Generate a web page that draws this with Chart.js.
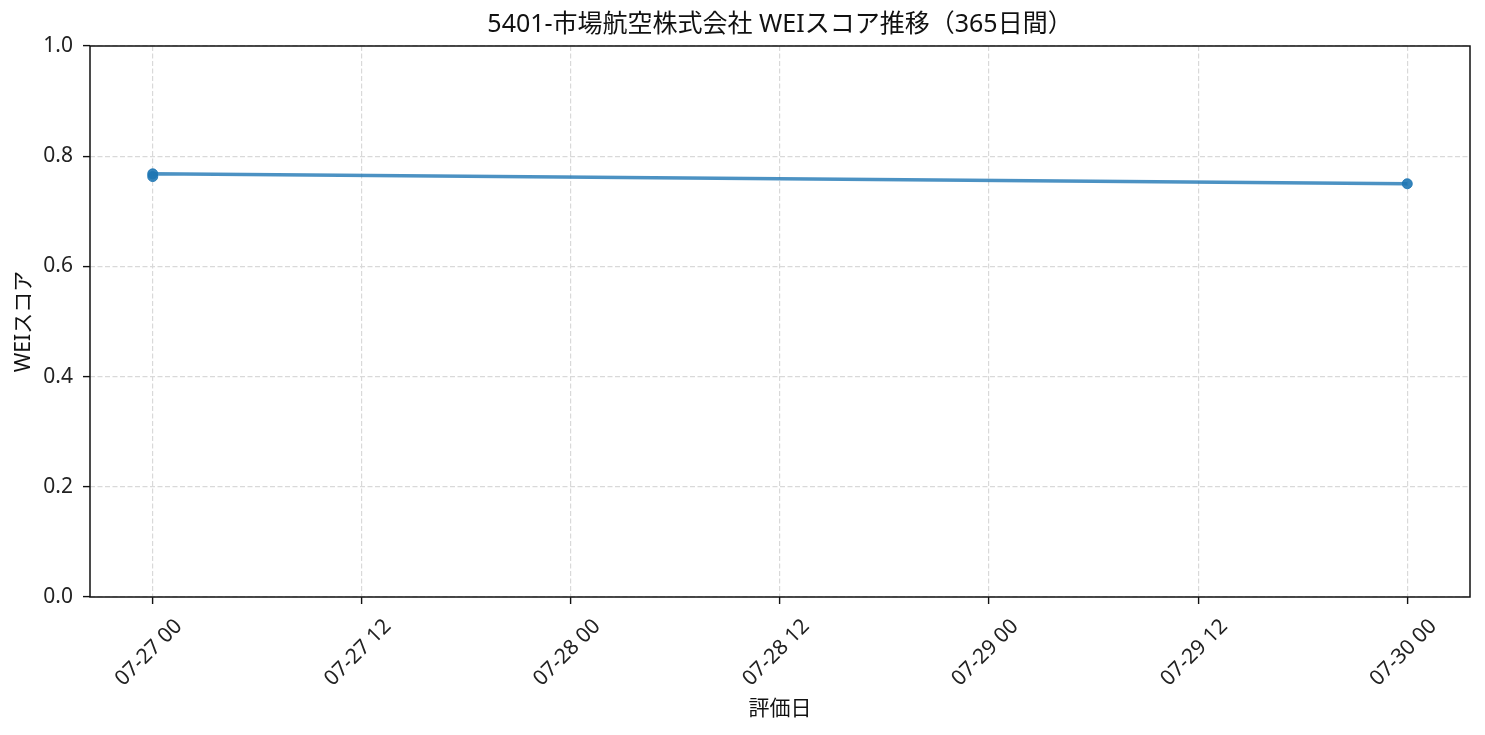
<!DOCTYPE html>
<html>
<head>
<meta charset="utf-8">
<script src="https://cdn.jsdelivr.net/npm/chart.js@4/dist/chart.umd.min.js"></script>
<style>
  body { margin: 0; background: #fff; }
  #wrap { width: 1485px; height: 735px; }
</style>
</head>
<body>
<div id="wrap"><canvas id="weiChart"></canvas></div>
<script>
// evaluation records
var evalDates = ['2025-07-27T00:00:00Z', '2025-07-27T00:00:00Z', '2025-07-30T00:00:00Z'];
var weiScores = [0.763, 0.768, 0.750];
var yTicks = [0.0, 0.2, 0.4, 0.6, 0.8, 1.0];
var xTickHours = [0, 12, 24, 36, 48, 60, 72];
var chartTitle = '5401-市場航空株式会社 WEIスコア推移（365日間）';

var baseTime = Date.parse('2025-07-27T00:00:00Z');
var HOUR = 3600 * 1000;

var points = evalDates.map(function(d, i) {
    return { x: (Date.parse(d) - baseTime) / HOUR, y: weiScores[i] };
});

function pad(n) { return (n < 10 ? '0' : '') + n; }
function hourLabel(h) {
    var t = new Date(baseTime + h * HOUR);
    return pad(t.getUTCMonth() + 1) + '-' + pad(t.getUTCDate()) + ' ' + pad(t.getUTCHours());
}

var FONT = '"Noto Sans", "Noto Sans CJK JP", sans-serif';
Chart.defaults.font.family = FONT;
Chart.defaults.color = '#222';

// box around the plot + title centred over the axes (like matplotlib)
var frame = {
    id: 'frame',
    afterDatasetsDraw: function(chart) {
        var a = chart.chartArea, c = chart.ctx;
        c.save();
        c.strokeStyle = '#111';
        c.lineWidth = 1.5;
        c.strokeRect(a.left, a.top, a.right - a.left, a.bottom - a.top);
        c.fillStyle = '#111';
        c.font = '25px ' + FONT;
        c.textAlign = 'center';
        c.textBaseline = 'middle';
        c.fillText(chartTitle, (a.left + a.right) / 2, 25);
        c.restore();
    }
};

var gridOpts = {
    color: '#d9d9d9',
    lineWidth: 1.2,
    borderDash: [5, 2.5],
    tickColor: '#111',
    tickLength: 7,
    tickWidth: 1.4,
    tickBorderDash: []
};

var ctx = document.getElementById('weiChart');
var weiChart = new Chart(ctx, {
    type: 'line',
    data: {
        datasets: [{
            label: 'WEIスコア',
            data: points,
            borderColor: 'rgba(31,119,180,0.8)',
            borderWidth: 3.5,
            pointRadius: 5,
            pointBorderWidth: 1,
            pointBackgroundColor: 'rgba(31,119,180,0.9)',
            pointBorderColor: 'rgba(31,119,180,0.9)',
            tension: 0
        }]
    },
    options: {
        responsive: true,
        maintainAspectRatio: false,
        animation: false,
        layout: { padding: { top: 46, right: 15 } },
        plugins: {
            legend: { display: false },
            tooltip: { enabled: false },
            title: { display: false }
        },
        scales: {
            x: {
                type: 'linear',
                min: -3.6,
                max: 75.6,
                afterBuildTicks: function(s) {
                    s.ticks = xTickHours.map(function(v) { return { value: v }; });
                },
                afterFit: function(s) { s.height = 138; },
                ticks: {
                    callback: function(v) { return hourLabel(v); },
                    minRotation: 45,
                    maxRotation: 45,
                    autoSkip: false,
                    labelOffset: 26,
                    padding: 10,
                    font: { size: 21 },
                    color: '#222'
                },
                grid: gridOpts,
                border: { display: false, dash: [5, 2.5] },
                title: {
                    display: true,
                    text: '評価日',
                    font: { size: 21 },
                    color: '#111',
                    padding: { top: 4, bottom: 13 }
                }
            },
            y: {
                min: 0,
                max: 1,
                afterBuildTicks: function(s) {
                    s.ticks = yTicks.map(function(v) { return { value: v }; });
                },
                afterFit: function(s) { s.width = 90; },
                ticks: {
                    callback: function(v) { return v.toFixed(1); },
                    padding: 10,
                    font: { size: 21 },
                    color: '#222'
                },
                grid: gridOpts,
                border: { display: false, dash: [5, 2.5] },
                title: {
                    display: true,
                    text: 'WEIスコア',
                    font: { size: 21 },
                    color: '#111',
                    padding: { top: 11, bottom: 4 }
                }
            }
        }
    },
    plugins: [frame]
});
</script>
</body>
</html>
